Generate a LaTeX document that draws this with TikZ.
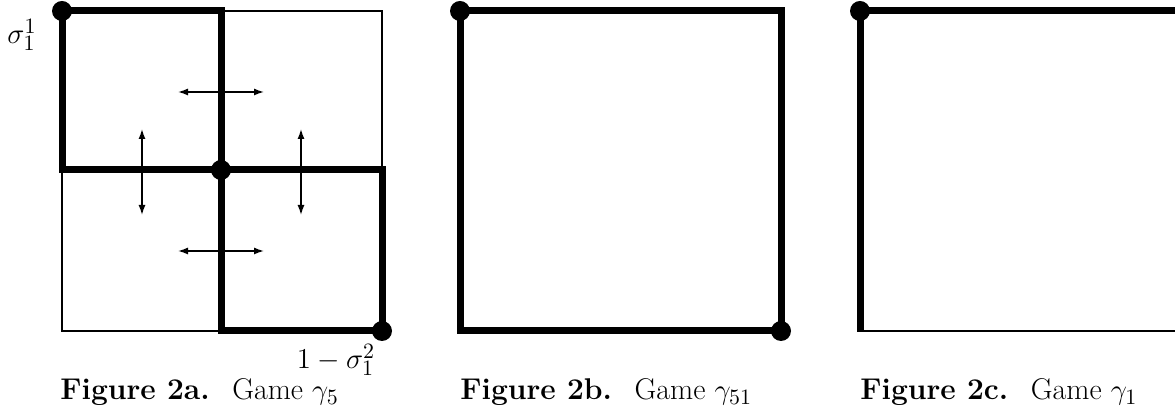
\documentclass[tikz,border=0pt]{standalone}
\usetikzlibrary{arrows.meta}
\begin{document}
\begin{tikzpicture}[x=0.5pt,y=-0.5pt,
  thickln/.style={line width=3.5pt,line cap=rect,line join=miter},
  thinln/.style={line width=1pt},
  dot/.style={circle,fill=black,inner sep=0pt,minimum size=10pt},
  dbl/.style={line width=0.7pt,{Latex[length=5pt,width=3.5pt]}-{Latex[length=5pt,width=3.5pt]}},
  lbl/.style={inner sep=0pt,font=\fontsize{15}{18}\selectfont},
  captxt/.style={inner sep=0pt,anchor=base west,font=\fontsize{15}{18}\selectfont}]
\useasboundingbox (0,0) rectangle (1175,410);
% ---------- Figure 2a ----------
\coordinate (aTL) at (62,11);
\coordinate (aTM) at (221,11);
\coordinate (aTR) at (382,11);
\coordinate (aML) at (62,170);
\coordinate (aMM) at (221,170);
\coordinate (aMR) at (382,170);
\coordinate (aBL) at (62,331);
\coordinate (aBM) at (221,331);
\coordinate (aBR) at (382,331);
\draw[thinln] (aTM) -- (aTR) -- (aMR);
\draw[thinln] (aML) -- (aBL) -- (aBM);
\draw[thickln] (aML) -- (aTL) -- (aTM) -- (aBM) -- (aBR) -- (aMR) -- cycle;
\coordinate (h1a) at (178,92); \coordinate (h1b) at (264,92);
\coordinate (h2a) at (178,251); \coordinate (h2b) at (264,251);
\coordinate (v1a) at (142,129); \coordinate (v1b) at (142,215);
\coordinate (v2a) at (301,129); \coordinate (v2b) at (301,215);
\draw[dbl] (h1a) -- (h1b);
\draw[dbl] (h2a) -- (h2b);
\draw[dbl] (v1a) -- (v1b);
\draw[dbl] (v2a) -- (v2b);
\node[dot] (da1) at (aTL) {};
\node[dot] (da2) at (aMM) {};
\node[dot] (da3) at (aBR) {};
\node[lbl] (s1) at (22,35) {$\sigma_1^1$};
\node[lbl] (s2) at (336,360) {$1-\sigma_1^2$};
\node[captxt] (capa) at (60,400) {\textbf{Figure 2a.}\hspace{0.75em}Game $\gamma_5$};
% ---------- Figure 2b ----------
\coordinate (bTL) at (460,11);
\coordinate (bTR) at (781,11);
\coordinate (bBL) at (460,331);
\coordinate (bBR) at (781,331);
\draw[thickln] (bTL) -- (bTR) -- (bBR) -- (bBL) -- cycle;
\node[dot] (db1) at (bTL) {};
\node[dot] (db2) at (bBR) {};
\node[captxt] (capb) at (460,400) {\textbf{Figure 2b.}\hspace{0.75em}Game $\gamma_{51}$};
% ---------- Figure 2c ----------
\coordinate (cTL) at (860,11);
\coordinate (cTR) at (1180,11);
\coordinate (cBL) at (860,331);
\coordinate (cBLk) at (860,328.5);
\coordinate (cBR) at (1180,331);
\draw[thinln] (cBL) -- (cBR);
\draw[thickln] (cBLk) -- (cTL) -- (cTR);
\node[dot] (dc1) at (cTL) {};
\node[captxt] (capc) at (860,400) {\textbf{Figure 2c.}\hspace{0.75em}Game $\gamma_1$};
\end{tikzpicture}
\end{document}
